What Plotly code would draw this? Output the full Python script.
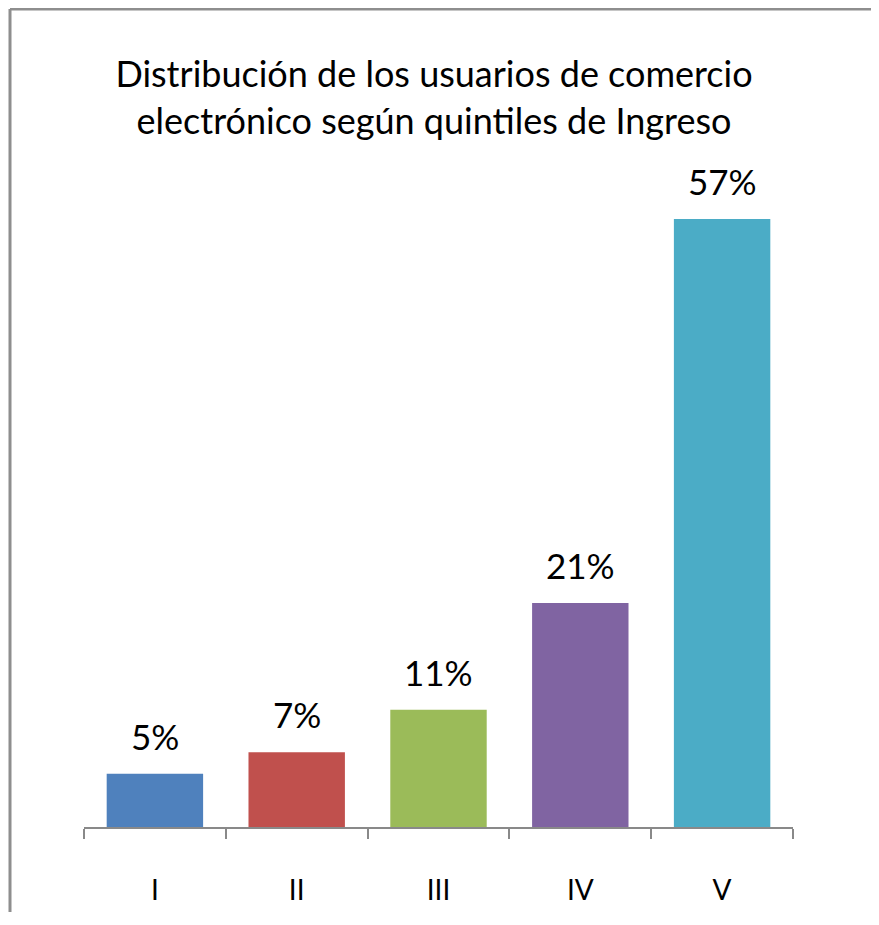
import plotly.graph_objects as go

# Data
quintiles = ['I', 'II', 'III', 'IV', 'V']
shares = [5, 7, 11, 21, 57]
labels = ['5%', '7%', '11%', '21%', '57%']
colors = ['#4F81BD', '#C0504D', '#9BBB59', '#8064A2', '#4BACC6']

# page has an 8px body margin on every side; keep the figure inside the window
W, H = 863, 904
L, R, T, B = 76, 78, 179, 85
plot_w = W - L - R
plot_h = H - T - B

fig = go.Figure(go.Bar(
    x = quintiles, y = shares,
    marker = dict(color = colors, line = dict(width = 0)),
    hoverinfo = 'skip',
    showlegend = False))

for q, v, t in zip(quintiles, shares, labels):
    fig.add_annotation(x = q, y = v, text = t, showarrow = False,
        yanchor = 'bottom', yshift = 15,
        font = dict(family = 'Lato', size = 35, color = '#000000'))

# chart border: only top and left edges are inside the picture
bx = (2 - L) / plot_w
by = (H - B - 1) / plot_h
border = dict(color = '#8E8E8E', width = 3)
fig.add_shape(type = 'line', xref = 'paper', yref = 'paper',
    x0 = bx, x1 = (W - L) / plot_w, y0 = by, y1 = by, line = border, layer = 'below')
fig.add_shape(type = 'line', xref = 'paper', yref = 'paper',
    x0 = bx, x1 = bx, y0 = -B / plot_h, y1 = by, line = border, layer = 'below')

fig.update_layout(
    width = W, height = H,
    margin = dict(l = L, r = R, t = T, b = B, autoexpand = False),
    paper_bgcolor = 'white', plot_bgcolor = 'white',
    bargap = 0.32,
    title = dict(
        text = 'Distribución de los usuarios de comercio<br>electrónico según quintiles de Ingreso',
        x = 426 / W, xanchor = 'center',
        y = 1 - 79 / H, yanchor = 'top', yref = 'container',
        font = dict(family = 'Lato', size = 36, color = '#000000')),
    xaxis = dict(
        showline = True, linecolor = '#898989', linewidth = 2,
        ticks = 'outside', tickson = 'boundaries', ticklen = 10,
        tickcolor = '#898989', tickwidth = 2,
        ticklabelstandoff = 37, automargin = False,
        tickfont = dict(family = 'Lato', size = 28, color = '#000000'),
        showgrid = False, zeroline = False, fixedrange = True),
    yaxis = dict(range = [0, 60], visible = False, showgrid = False,
        zeroline = False, fixedrange = True))

fig.write_html('out.html')
